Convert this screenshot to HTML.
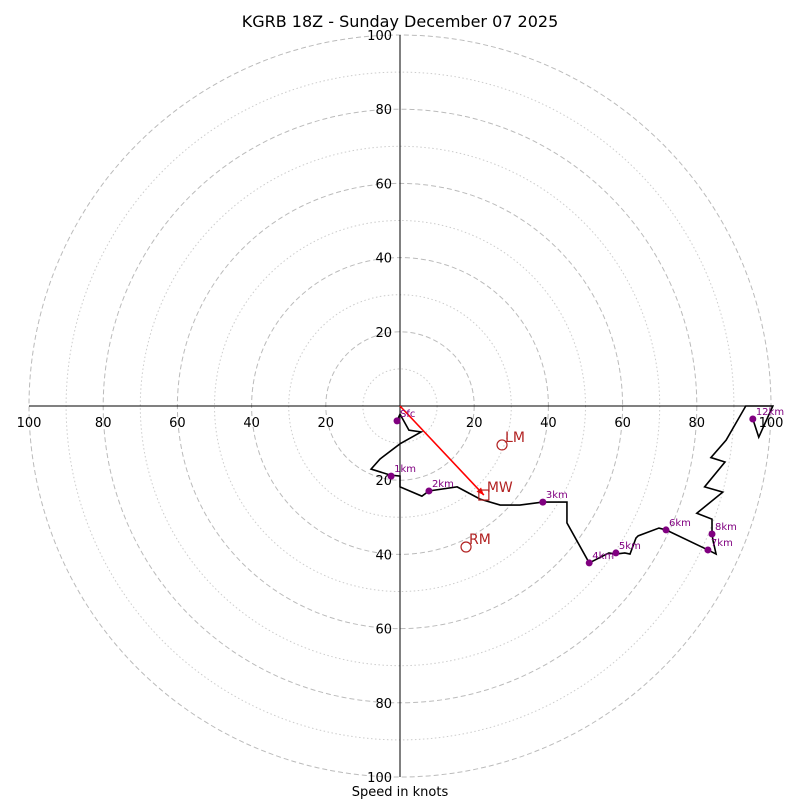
<!DOCTYPE html>
<html><head><meta charset="utf-8"><style>
body{margin:0;background:#fff}
svg{display:block;font-family:"DejaVu Sans","Liberation Sans",sans-serif}
</style></head><body>
<svg id="c" width="800" height="800"></svg>
<script>
const ringValues=[10,20,30,40,50,60,70,80,90,100];
const tickLabels=["20","40","60","80","100"];
// hodograph trace (u, v in knots)
const traceU=[-0.8,0.0,2.4,5.7,0.0,-5.4,-7.8,-2.7,0.0,0.0,5.9,7.8,15.4,21.6,27.0,32.3,38.5,45.0,45.0,51.0,56.3,58.2,60.6,62.0,63.6,64.2,69.8,71.7,83.0,85.2,84.4,84.1,84.1,80.0,87.0,82.1,87.6,83.8,87.9,93.2,100.5,96.7,95.1];
const traceV=[-4.0,-2.2,-6.5,-7.0,-10.2,-14.3,-17.0,-18.6,-18.9,-21.8,-24.3,-22.9,-21.8,-25.1,-26.7,-26.7,-25.9,-25.9,-31.5,-42.3,-39.6,-39.9,-39.6,-39.9,-35.6,-35.0,-32.9,-33.4,-38.8,-39.9,-36.4,-34.5,-30.5,-28.9,-23.2,-21.8,-15.1,-13.9,-9.2,0.0,0.0,-8.4,-3.5];
const markerLabels=["Sfc","1km","2km","3km","4km","5km","6km","7km","8km","12km"];
const markerU=[-0.8,-2.4,7.8,38.5,51.0,58.2,71.7,83.0,84.1,95.1];
const markerV=[-4.0,-18.9,-22.9,-25.9,-42.3,-39.6,-33.4,-38.8,-34.5,-3.5];
const motionNames=["LM","RM","MW"];
const motionU=[27.5,17.8,22.6];
const motionV=[-10.5,-38.0,-24.0];

const svg=document.getElementById('c');const NS='http://www.w3.org/2000/svg';
const cx=400,cy=406,R=371,maxV=100;
const X=u=>cx+u/maxV*R, Y=v=>cy-v/maxV*R, S=r=>r/maxV*R;
function mk(t,a,p){const e=document.createElementNS(NS,t);for(const k in a)e.setAttribute(k,a[k]);(p||svg).appendChild(e);return e;}
function tx(s,x,y,a,p){const e=mk('text',Object.assign({x:x,y:y},a),p);e.textContent=s;return e;}

const rings=mk('g',{});


ringValues.forEach(r=>{const maj=r%20===0;const c=mk('circle',{cx:cx,cy:cy,r:S(r),fill:'none',stroke:maj?'#bbb':'#ccc','stroke-width':1,'stroke-dasharray':maj?'5,3':'1.5,2.5'},rings);

});
const ax=mk('g',{stroke:'#000','stroke-width':1});


mk('line',{x1:X(-100),y1:cy,x2:X(100),y2:cy},ax);
mk('line',{x1:cx,y1:Y(100),x2:cx,y2:Y(-100)},ax);
const tl=mk('g',{'font-size':13,fill:'#000'});


tickLabels.forEach(l=>{const v=+l;
tx(l,cx-8,Y(v)+5,{'text-anchor':'end'},tl);
tx(l,cx-8,Y(-v)+5,{'text-anchor':'end'},tl);
tx(l,X(v),cy+21,{'text-anchor':'middle'},tl);
tx(l,X(-v),cy+21,{'text-anchor':'middle'},tl);});

// mean wind arrow
const mi=2;
const ar=mk('line',{x1:cx,y1:cy,x2:X(motionU[mi]),y2:Y(motionV[mi]),stroke:'#f00','stroke-width':1.6});


const ang=Math.atan2(Y(motionV[mi])-cy,X(motionU[mi])-cx),hx=X(motionU[mi]),hy=Y(motionV[mi]);
mk('polygon',{points:`${hx},${hy} ${hx-8*Math.cos(ang-0.4)},${hy-8*Math.sin(ang-0.4)} ${hx-8*Math.cos(ang+0.4)},${hy-8*Math.sin(ang+0.4)}`,fill:'#f00'});

const tr=mk('polyline',{points:traceU.map((u,i)=>X(u)+','+Y(traceV[i])).join(' '),fill:'none',stroke:'#000','stroke-width':1.6});



markerLabels.forEach((l,i)=>{const g=mk('g',{});


mk('circle',{cx:X(markerU[i]),cy:Y(markerV[i]),r:3.5,fill:'#800080'},g);
tx(l,X(markerU[i])+3,Y(markerV[i])-4,{'font-size':10,fill:'#800080'},g);});

motionNames.forEach((n,i)=>{const g=mk('g',{});


const x=X(motionU[i]),y=Y(motionV[i]);
if(n==='MW')mk('rect',{x:x-5,y:y-5,width:10,height:10,fill:'none',stroke:'#b22222','stroke-width':1.2},g);
else mk('circle',{cx:x,cy:y,r:5,fill:'none',stroke:'#b22222','stroke-width':1.2},g);
tx(n,x+3,y-3,{'font-size':14,fill:'#b22222'},g);});

const t=tx('KGRB 18Z - Sunday December 07 2025',400,27,{'text-anchor':'middle','font-size':16});


const xl=tx('Speed in knots',400,796,{'text-anchor':'middle','font-size':13});


</script>
</body></html>
